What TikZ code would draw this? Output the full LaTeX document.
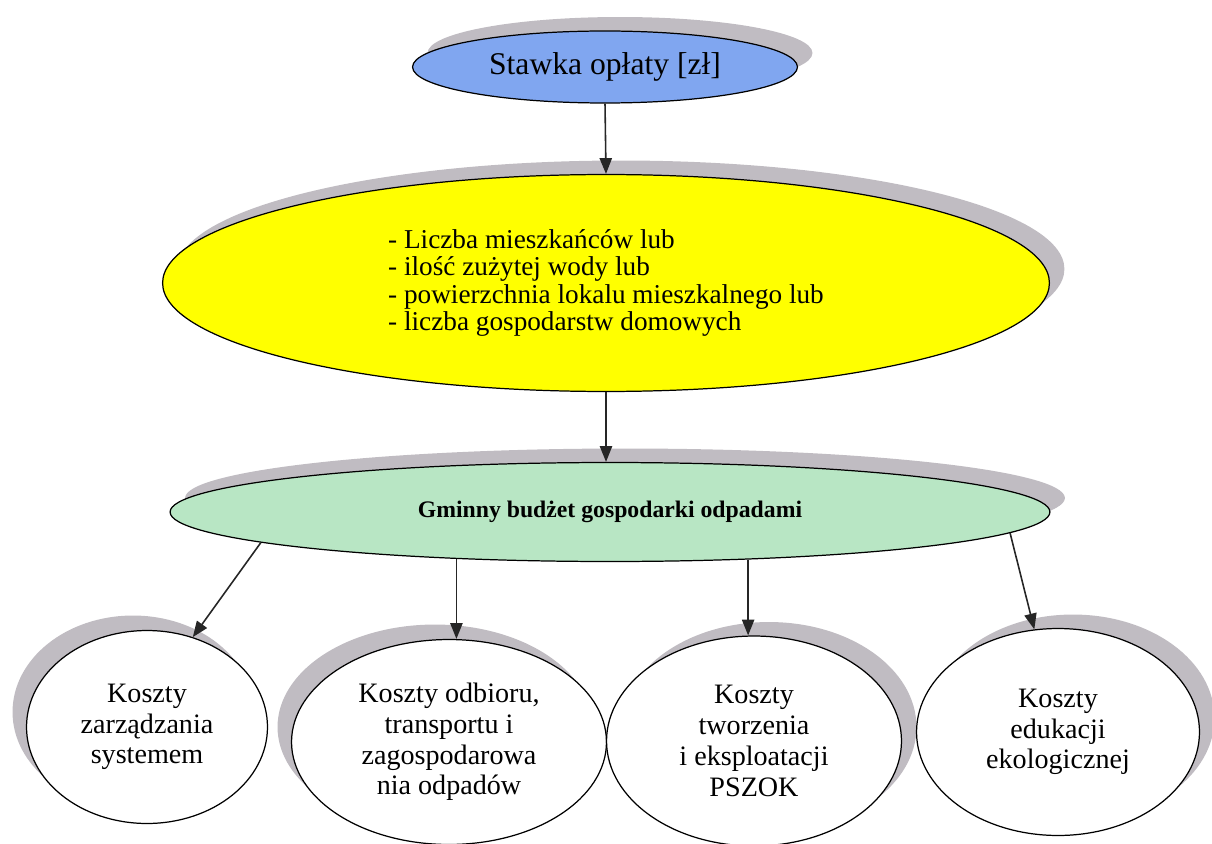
\documentclass[tikz,border=0pt]{standalone}
\usepackage{fontspec}
\setmainfont{Liberation Serif}
\usetikzlibrary{%
  arrows.meta,%
  shapes.geometric,%
  shadows
}
\definecolor{niebieski}{RGB}{128,166,240}
\definecolor{zolty}{RGB}{255,255,0}
\definecolor{zielony}{RGB}{184,230,196}
\definecolor{cien}{RGB}{192,188,194}

\begin{document}
\begin{tikzpicture}[x=0.02cm,y=-0.02cm,
    oval/.style={ellipse,draw,line width=0.7pt,inner sep=0pt,align=center},
    cienP/.style={drop shadow={shadow xshift=0.3cm,shadow yshift=0.28cm,fill=cien,opacity=1}},
    cienL/.style={drop shadow={shadow xshift=-0.28cm,shadow yshift=0.3cm,fill=cien,opacity=1}},
    koszt/.style={oval,fill=white,font=\fontsize{16}{17.5}\selectfont},
    strzalka/.style={-{Triangle[length=9pt,width=7pt]},line width=0.9pt,draw=black!85}]
    \useasboundingbox (0,0) rectangle (1212,844);
    \node [oval,cienP,fill=niebieski,minimum width=7.7cm,minimum height=1.44cm,
      font=\fontsize{18}{20}\selectfont] (stawka) at (605,67) {Stawka opłaty [zł]};
    \node [oval,cienP,fill=zolty,minimum width=17.74cm,minimum height=4.34cm,align=left,
      font=\fontsize{15.5}{15.7}\selectfont] (kryteria) at (606,283)
      {- Liczba mieszkańców lub\\- ilość zużytej wody lub\\- powierzchnia lokalu mieszkalnego lub\\- liczba gospodarstw domowych};
    \node [oval,cienP,fill=zielony,minimum width=17.6cm,minimum height=1.98cm,
      font=\bfseries\fontsize{13.5}{15}\selectfont] (budzet) at (610,512) {Gminny budżet gospodarki odpadami};
    \node [koszt,cienL,minimum width=4.82cm,minimum height=3.86cm] (zarzadzanie) at (147,727)
      {Koszty\\zarządzania\\systemem};
    \node [koszt,cienL,minimum width=6.3cm,minimum height=4.1cm] (odbior) at (449,742)
      {Koszty odbioru,\\transportu i\\zagospodarowa\\nia odpadów};
    \node [koszt,cienP,minimum width=5.9cm,minimum height=4.2cm] (pszok) at (754,741)
      {Koszty\\tworzenia\\i eksploatacji\\PSZOK};
    \node [koszt,cienP,minimum width=5.66cm,minimum height=4.14cm] (edukacja) at (1058,732)
      {Koszty\\edukacji\\ekologicznej};
    \draw [strzalka] (stawka.south) -- (kryteria.north);
    \draw [strzalka] (kryteria.south) -- (kryteria.south |- budzet.north);
    \draw [strzalka] (budzet.185) -- (zarzadzanie.63);
    \draw [strzalka] (budzet.197.5) -- (budzet.197.5 |- odbior.north);
    \draw [strzalka] (budzet.341.5) -- (budzet.341.5 |- pszok.north);
    \draw [strzalka] (budzet.357) -- (edukacja.103.5);
  \end{tikzpicture}
\end{document}
